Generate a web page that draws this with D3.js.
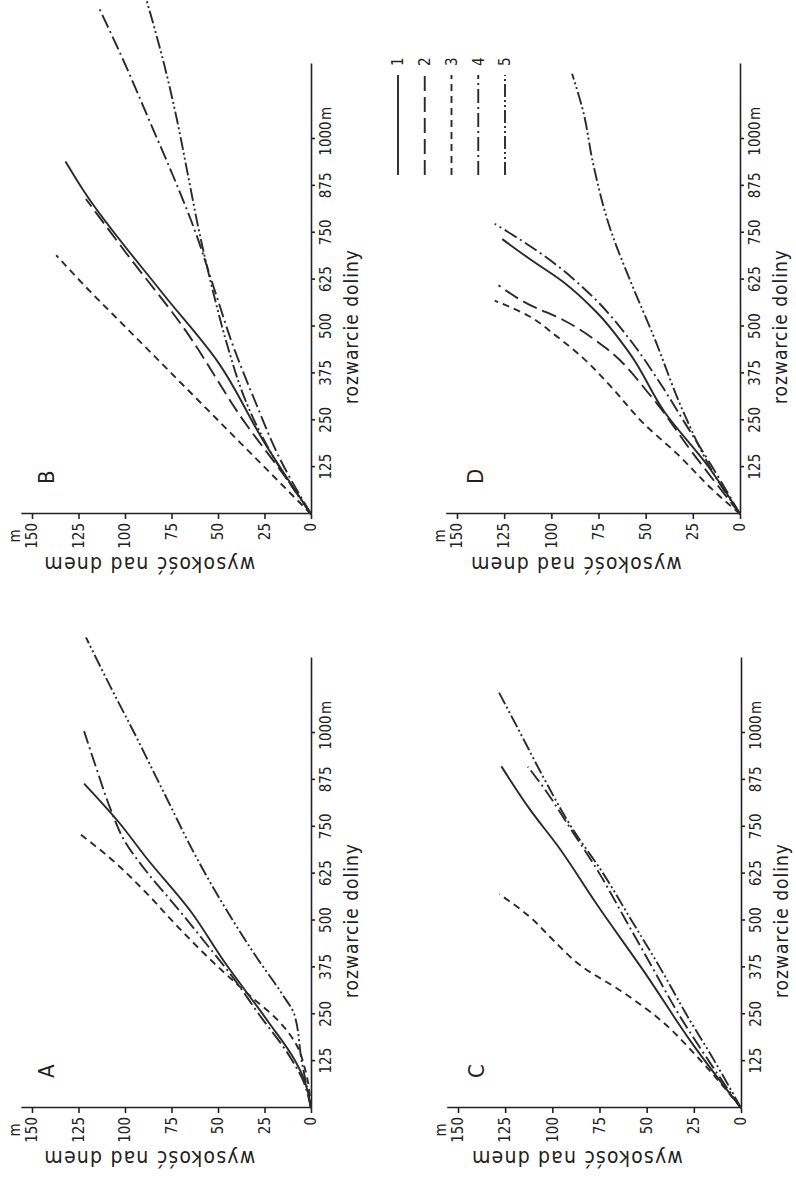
<!DOCTYPE html>
<html>
<head>
<meta charset="utf-8">
<script src="https://d3js.org/d3.v7.min.js"></script>
<style>
  body { margin: 0; background: #fff; }
  svg text { font-family: "DejaVu Sans Condensed", "Liberation Sans Narrow", "DejaVu Sans", sans-serif; fill: #222; }
</style>
</head>
<body>
<div id="chart"></div>
<script>
// tick labels
var distTicks = [125, 250, 375, 500, 625, 750, 875, 1000];
var heightTicks = [0, 25, 50, 75, 100, 125, 150];
var legendLabels = ["1", "2", "3", "4", "5"];

// every series: [rozwarcie doliny (m), wysokość nad dnem (m)]
// panel A
var a1 = [[0,0],[80,4],[130,9],[230,23],[400,48],[520,64],[670,89],[760,103],[865,122]];
var a3 = [[0,0],[100,3],[170,8],[230,17],[300,33],[400,55],[480,71],[576,89],[662,107],[730,124]];
var a4 = [[0,0],[70,4],[134,11],[250,28],[355,43],[442,57],[528,71],[634,89],[710,100],[800,108],[900,115],[1005,122]];
var a5 = [[0,0],[50,2],[125,5],[250,9],[300,15],[400,29],[500,42],[600,54],[700,65],[800,75],[900,85],[1000,95],[1125,108],[1255,121]];
// panel B
var b1 = [[0,0],[190,25],[405,50],[590,80],[860,122],[940,132]];
var b2 = [[0,0],[100,14],[240,35],[500,69],[700,100],[840,121]];
var b3 = [[0,0],[100,20],[250,50],[400,80],[500,100],[600,120],[690,137]];
var b4 = [[0,0],[150,17],[300,30],[450,42],[600,52],[750,62],[900,74],[1050,87],[1200,100],[1350,114]];
var b5 = [[0,0],[150,20],[300,35],[450,45],[600,53],[750,60],[900,66],[1050,72],[1200,79],[1380,89]];
// panel C
var c1 = [[0,0],[173,26],[361,51],[540,76],[698,97],[797,112],[911,127]];
var c3 = [[0,0],[130,22],[240,44],[310,63],[380,85],[450,100],[510,112],[570,128]];
var c4 = [[0,0],[125,17],[250,33],[375,47],[500,61],[625,75],[750,91],[850,104],[910,113]];
var c5 = [[0,0],[125,14],[250,29],[375,43],[500,58],[625,73],[750,90],[875,104],[1000,117],[1115,129]];
// panel D
var d1 = [[0,0],[128,17],[272,40],[425,58],[538,76],[620,94],[682,112],[733,126]];
var d2 = [[0,0],[169,26],[313,47],[446,72],[518,94],[559,112],[610,128]];
var d3s = [[0,0],[67,15],[159,33],[241,51],[343,69],[415,83],[477,98],[528,112],[569,130]];
var d4 = [[0,0],[128,15],[241,29],[354,43],[456,57],[579,78],[682,102],[774,130]];
var d5 = [[0,0],[108,14],[272,30],[477,46],[620,58],[764,69],[938,78],[1071,83],[1174,89]];

var W = 796, H = 1179;
// dash pattern of each legend number
var dashes = {"1": null, "2": "15,6", "3": "7,5", "4": "14,4,2,4", "5": "13,3,2,3,2,3"};

document.addEventListener("DOMContentLoaded", function () {
    var svg = d3.select("#chart").append("svg")
        .attr("width", W)
        .attr("height", H);

    // the printed page lies on its side: draw it upright and turn it
    var page = svg.append("g")
        .attr("transform", "translate(0," + H + ") rotate(-90)");

    drawPanel(page, "A", 71, 311, 279, [["1", a1], ["3", a3], ["4", a4], ["5", a5]]);
    drawPanel(page, "B", 665, 311, 279, [["1", b1], ["2", b2], ["3", b3], ["4", b4], ["5", b5]]);
    drawPanel(page, "C", 71, 741, 283, [["1", c1], ["3", c3], ["4", c4], ["5", c5]]);
    drawPanel(page, "D", 665, 740, 283, [["1", d1], ["2", d2], ["3", d3s], ["4", d4], ["5", d5]]);

    drawLegend(page);
});

function drawPanel(page, name, ox, oy, h150, series) {
    const plotW = 450;
    const plotH = h150 * 156 / 150;

    var g = page.append("g")
        .attr("transform", `translate(${ox}, ${oy - plotH})`);

    var xScale = d3.scaleLinear().domain([0, 1200]).range([0, plotW]);
    var yScale = d3.scaleLinear().domain([0, 156]).range([plotH, 0]);

    //x axis
    var xAxis = g.append("g")
        .attr("transform", "translate(0," + plotH + ")")
        .call(d3.axisBottom(xScale).tickValues(distTicks).tickFormat(d3.format("d"))
            .tickSize(4).tickPadding(5).tickSizeOuter(0));

    //y axis
    var yAxis = g.append("g")
        .call(d3.axisLeft(yScale).tickValues(heightTicks).tickSize(5).tickPadding(4).tickSizeOuter(0));

    [xAxis, yAxis].forEach(function (ax) {
        ax.selectAll("path, line").attr("stroke", "#222").attr("stroke-width", 1.6);
        ax.selectAll("text").style("font-size", "15px").attr("fill", "#222");
    });

    // units
    g.append("text")
        .attr("x", xScale(1000) + 19)
        .attr("y", plotH + 9)
        .attr("dy", "0.71em")
        .style("font-size", "15px")
        .text("m");
    g.append("text")
        .attr("x", -22)
        .attr("y", yScale(150) - 17)
        .attr("dy", "0.32em")
        .attr("text-anchor", "middle")
        .style("font-size", "15px")
        .text("m");

    // axis titles
    g.append("text")
        .attr("x", xScale(500))
        .attr("y", plotH + 47)
        .attr("text-anchor", "middle")
        .style("font-size", "19px")
        .style("letter-spacing", "1px")
        .text("rozwarcie doliny");

    g.append("text")
        .attr("transform", `translate(-43, ${yScale(87)}) rotate(-90)`)
        .attr("text-anchor", "middle")
        .style("font-size", "21px")
        .style("letter-spacing", "1.2px")
        .text("wysokość nad dnem");

    // panel letter
    g.append("text")
        .attr("x", 30)
        .attr("y", plotH - 257)
        .style("font-size", "22px")
        .text(name);

    var line = d3.line()
        .x(d => xScale(d[0]))
        .y(d => yScale(d[1]))
        .curve(d3.curveMonotoneX);

    series.forEach(function (s) {
        g.append("path")
            .datum(s[1])
            .attr("fill", "none")
            .attr("stroke", "#2a2a2a")
            .attr("stroke-width", 1.9)
            .attr("stroke-dasharray", dashes[s[0]])
            .attr("d", line);
    });
}

function drawLegend(page) {
    var legendScale = d3.scalePoint().domain(legendLabels).range([398, 505]);

    var rows = page.append("g").selectAll("g")
        .data(legendLabels)
        .join("g")
        .attr("transform", d => `translate(0, ${legendScale(d)})`);

    rows.append("line")
        .attr("x1", 1004)
        .attr("x2", 1104)
        .attr("stroke", "#2a2a2a")
        .attr("stroke-width", 1.9)
        .attr("stroke-dasharray", d => dashes[d]);

    rows.append("text")
        .attr("x", 1113)
        .attr("dy", "0.35em")
        .style("font-size", "15px")
        .text(d => d);
}
</script>
</body>
</html>
